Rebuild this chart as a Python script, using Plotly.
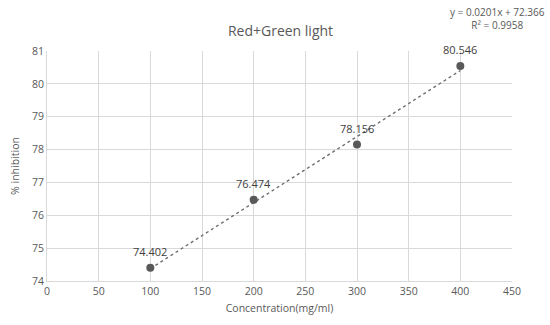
import plotly.graph_objects as go

# Measured inhibition at each concentration
concentration = [100, 200, 300, 400]
inhibition = [74.402, 76.474, 78.156, 80.546]

# Linear trendline coefficients shown on the chart
slope = 0.0201
intercept = 72.366
r_squared = 0.9958

x_ticks = [0, 50, 100, 150, 200, 250, 300, 350, 400, 450]
y_ticks = [74, 75, 76, 77, 78, 79, 80, 81]

trend_x = [concentration[0], concentration[-1]]
trend_y = [slope * x + intercept for x in trend_x]

font_family = "Open Sans, Liberation Sans, sans-serif"
text_color = "#595959"

fig = go.Figure()

fig.add_trace(go.Scatter(
    x=trend_x, y=trend_y, mode="lines",
    line=dict(color="#6f6f6f", width=1.4, dash="dot"),
    hoverinfo="skip", showlegend=False,
))

fig.add_trace(go.Scatter(
    x=concentration, y=inhibition, mode="markers",
    marker=dict(color="#595959", size=8),
    showlegend=False,
))

annotations = [
    dict(x=x, y=y, xref="x", yref="y", text=f"{y:.3f}",
         showarrow=False, yshift=16,
         font=dict(family=font_family, size=11, color="#404040"))
    for x, y in zip(concentration, inhibition)
]
annotations.append(dict(
    text=f"y = {slope}x + {intercept}<br>R² = {r_squared}",
    xref="paper", yref="paper", x=0.968, y=1.075,
    xanchor="center", yanchor="bottom", showarrow=False, align="center",
    font=dict(family=font_family, size=10, color=text_color),
))

fig.update_layout(
    width=550, height=325,
    margin=dict(l=47, r=38, t=51, b=42),
    paper_bgcolor="white", plot_bgcolor="white",
    font=dict(family=font_family, color=text_color, size=10),
    title=dict(
        text="Red+Green light", x=0.51, xanchor="center",
        y=0.905, yanchor="middle",
        font=dict(family=font_family, size=14, color=text_color),
    ),
    xaxis=dict(
        range=[0, 450], tickvals=x_ticks, showgrid=True,
        gridcolor="#d9d9d9", gridwidth=1, zeroline=False,
        showline=True, linecolor="#d9d9d9", ticks="",
        tickfont=dict(size=10.5, color=text_color),
        title=dict(text="Concentration(mg/ml)", standoff=8,
                   font=dict(size=10.5, color=text_color)),
    ),
    yaxis=dict(
        range=[74, 81], tickvals=y_ticks, showgrid=True,
        gridcolor="#d9d9d9", gridwidth=1, zeroline=False,
        showline=True, linecolor="#d9d9d9", ticks="",
        tickfont=dict(size=10.5, color=text_color),
        title=dict(text="% inhibition", standoff=10,
                   font=dict(size=10.5, color=text_color)),
    ),
    annotations=annotations,
)

fig.write_html("out.html")
